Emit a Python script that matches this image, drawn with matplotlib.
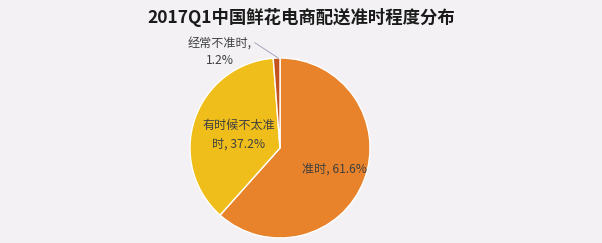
import matplotlib
matplotlib.use("Agg")
import matplotlib.pyplot as plt
import numpy as np

plt.rcParams['font.family'] = ['Noto Sans CJK SC', 'DejaVu Sans']

title = "2017Q1中国鲜花电商配送准时程度分布"
categories = ["准时", "有时候不太准时", "经常不准时"]
values = [61.6, 37.2, 1.2]
colors = ["#E8832B", "#F0BE1B", "#C4521D"]

bg = "#F3F1F4"
fig = plt.figure(figsize=(6.02, 2.43), dpi=100, facecolor=bg)
ax = fig.add_axes([190/602, 5/243, 180/602, 180/243])
ax.set_facecolor(bg)

wedges, _ = ax.pie(values, colors=colors, startangle=90, counterclock=False,
                   wedgeprops=dict(edgecolor="white", linewidth=1.0))
ax.set_xlim(-1, 1)
ax.set_ylim(-1, 1)
ax.set_aspect('equal')
ax.axis('off')

tc = "#404040"
fs = 8.7
ax.text(0.61, -0.24, f"{categories[0]}, {values[0]}%", ha='center', va='center',
        fontsize=fs, color=tc)
ax.text(-0.46, 0.15, f"{categories[1][:6]}\n{categories[1][6:]}, {values[1]}%",
        ha='center', va='center', fontsize=fs, color=tc, linespacing=1.55)
ax.text(-0.67, 1.07, f"{categories[2]},\n{values[2]}%", ha='center', va='center',
        fontsize=fs, color=tc, linespacing=1.5)
ax.plot([-0.28, -0.02], [1.17, 1.0], color="#A9A3BE", lw=0.7, clip_on=False)

fig.text(0.5, 1 - 17/243, title, ha='center', va='center', fontsize=12.5,
         fontweight='bold', color='#1a1a1a')

fig.savefig("out.png", dpi=100, facecolor=bg)
